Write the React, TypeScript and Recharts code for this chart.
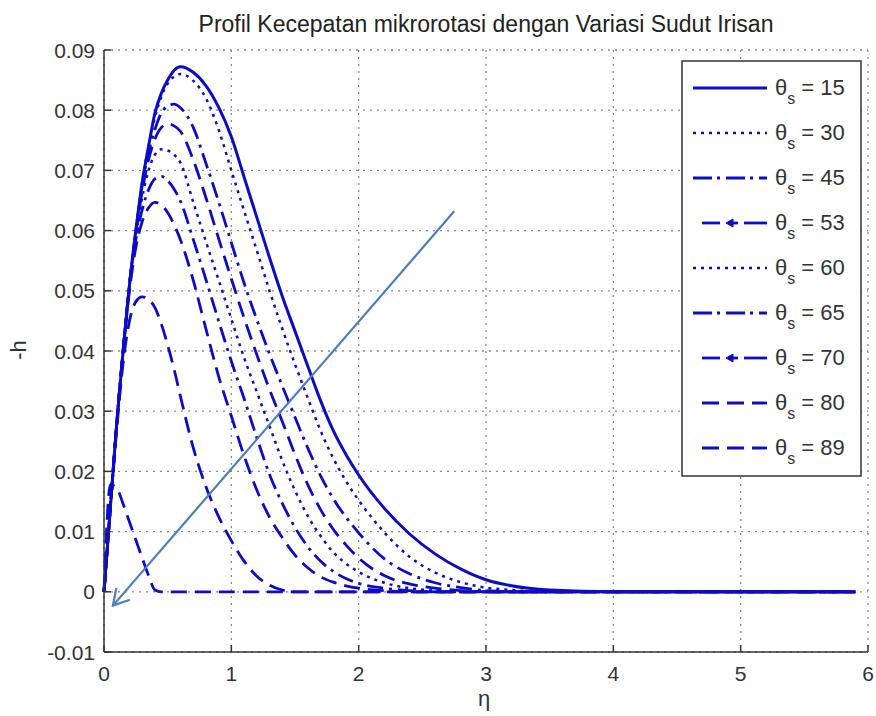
import React from 'react';
import { LineChart, Line, XAxis, YAxis, CartesianGrid, ReferenceLine } from 'recharts';

// eta grid (x values) shared by every profile
const eta = [0, 0.05, 0.1, 0.15, 0.2, 0.25, 0.3, 0.35, 0.4, 0.45, 0.5, 0.55, 0.6, 0.7, 0.8, 0.9, 1.0, 1.1, 1.2, 1.3, 1.4, 1.5, 1.6, 1.7, 1.8, 1.9, 2.0, 2.2, 2.4, 2.6, 2.8, 3.0, 3.2, 3.5, 4.0, 4.5, 5.0, 5.5, 5.9];

// -h values, one list per slice angle
const h15 = [0, 0.014, 0.028, 0.04, 0.051, 0.06, 0.068, 0.074, 0.0795, 0.0828, 0.085, 0.0866, 0.0872, 0.0863, 0.0841, 0.0805, 0.0756, 0.0689, 0.0622, 0.0555, 0.0491, 0.0433, 0.0375, 0.0318, 0.0268, 0.0228, 0.0194, 0.0139, 0.0096, 0.0063, 0.0038, 0.002, 0.001, 0.0003, 0, 0, 0, 0, 0];
const h30 = [0, 0.014, 0.028, 0.04, 0.051, 0.06, 0.068, 0.074, 0.0788, 0.0822, 0.0844, 0.0856, 0.086, 0.0849, 0.082, 0.0768, 0.07, 0.0633, 0.0567, 0.05, 0.0437, 0.0378, 0.0322, 0.0268, 0.0222, 0.0184, 0.0152, 0.0099, 0.0058, 0.0032, 0.0016, 0.0007, 0.0003, 0, 0, 0, 0, 0, 0];
const h45 = [0, 0.014, 0.028, 0.04, 0.051, 0.06, 0.0675, 0.073, 0.0768, 0.0795, 0.0807, 0.081, 0.0804, 0.0772, 0.0712, 0.0648, 0.058, 0.0513, 0.0452, 0.0395, 0.0342, 0.029, 0.0239, 0.0193, 0.0155, 0.0124, 0.0098, 0.0055, 0.003, 0.0015, 0.0007, 0.0002, 0, 0, 0, 0, 0, 0, 0];
const h53 = [0, 0.014, 0.028, 0.04, 0.051, 0.0595, 0.0665, 0.0718, 0.0752, 0.0771, 0.0777, 0.0774, 0.0765, 0.0718, 0.0655, 0.0587, 0.052, 0.0455, 0.0394, 0.0336, 0.0283, 0.0228, 0.0178, 0.0137, 0.0104, 0.0078, 0.0056, 0.0027, 0.0013, 0.0006, 0.0002, 0, 0, 0, 0, 0, 0, 0, 0];
const h60 = [0, 0.014, 0.028, 0.04, 0.051, 0.059, 0.0655, 0.07, 0.0726, 0.0735, 0.0733, 0.0726, 0.0713, 0.0648, 0.0582, 0.0518, 0.0453, 0.0389, 0.0332, 0.0275, 0.0218, 0.0168, 0.0126, 0.0093, 0.0066, 0.0047, 0.0033, 0.0015, 0.0006, 0.0002, 0, 0, 0, 0, 0, 0, 0, 0, 0];
const h65 = [0, 0.014, 0.028, 0.04, 0.051, 0.0585, 0.0635, 0.0668, 0.0686, 0.069, 0.0683, 0.0669, 0.0649, 0.0586, 0.0519, 0.045, 0.0383, 0.0321, 0.0256, 0.0195, 0.0147, 0.0107, 0.0075, 0.0051, 0.0034, 0.0022, 0.0014, 0.0006, 0.0002, 0, 0, 0, 0, 0, 0, 0, 0, 0, 0];
const h70 = [0, 0.014, 0.028, 0.04, 0.05, 0.0572, 0.0615, 0.0638, 0.0647, 0.0643, 0.063, 0.061, 0.0585, 0.0518, 0.0437, 0.0358, 0.0292, 0.0226, 0.0169, 0.0124, 0.009, 0.0061, 0.004, 0.0025, 0.0016, 0.001, 0.0006, 0.0002, 0, 0, 0, 0, 0, 0, 0, 0, 0, 0, 0];
const h80 = [0, 0.014, 0.027, 0.038, 0.045, 0.0482, 0.049, 0.0486, 0.0472, 0.0445, 0.041, 0.037, 0.0325, 0.024, 0.0175, 0.0125, 0.0085, 0.0051, 0.0026, 0.0011, 0.0003, 0, 0, 0, 0, 0, 0, 0, 0, 0, 0, 0, 0, 0, 0, 0, 0, 0, 0];
const h89 = [0, 0.0178, 0.0172, 0.0146, 0.0116, 0.0086, 0.0056, 0.0027, 0.0003, 0, 0, 0, 0, 0, 0, 0, 0, 0, 0, 0, 0, 0, 0, 0, 0, 0, 0, 0, 0, 0, 0, 0, 0, 0, 0, 0, 0, 0, 0];

const angles = ['15', '30', '45', '53', '60', '65', '70', '80', '89'];
const profiles = [h15, h30, h45, h53, h60, h65, h70, h80, h89];

const xTicks = [0, 1, 2, 3, 4, 5, 6];
const yTicks = [-0.01, 0, 0.01, 0.02, 0.03, 0.04, 0.05, 0.06, 0.07, 0.08, 0.09];

// the annotation arrow, in data units
const arrowFrom = { x: 2.75, y: 0.0632 };
const arrowTo = { x: 0.07, y: -0.0023 };

const BLUE = '#0c0cc8';
const INK = '#333';
const FONT = '"Liberation Sans", Arial, sans-serif';

type LineStyle = { dash?: string; legendDash?: string; width: number; arrow?: boolean; start?: number };
const lineStyles: LineStyle[] = [
  { width: 3 },
  { dash: '3 5', legendDash: '3 5', width: 2.5 },
  { dash: '16 6 3 6', legendDash: '19 5 3 6', width: 2.8 },
  { dash: '16 8', width: 2.8, arrow: true, start: 702 },
  { dash: '3 5', legendDash: '3 5', width: 2.5 },
  { dash: '16 6 3 6', legendDash: '19 5 3 6', width: 2.8 },
  { dash: '16 8', width: 2.8, arrow: true, start: 702 },
  { dash: '16 8', legendDash: '17 8', width: 2.8, start: 702 },
  { dash: '16 8', legendDash: '17 8', width: 2.8, start: 702 },
];

const rows = eta.map((e, i) => {
  const row: Record<string, number> = { eta: e };
  profiles.forEach((p, k) => {
    row['t' + angles[k]] = p[i];
  });
  return row;
});

const fmtY = (v: number) => (Math.abs(v) < 1e-9 ? '0' : v.toFixed(2));

const BottomTick = (p: any) => (
  <g>
    <line x1={p.x} x2={p.x} y1={p.y - 10} y2={p.y - 17} stroke={INK} strokeWidth={1.5} />
    <text x={p.x} y={p.y + 19} textAnchor="middle" fill={INK} fontSize={21} fontFamily={FONT}>
      {p.payload.value}
    </text>
  </g>
);

const LeftTick = (p: any) => (
  <g>
    <line x1={p.x + 9} x2={p.x + 16} y1={p.y} y2={p.y} stroke={INK} strokeWidth={1.5} />
    <text x={p.x} y={p.y + 7.5} textAnchor="end" fill={INK} fontSize={21} fontFamily={FONT}>
      {fmtY(p.payload.value)}
    </text>
  </g>
);

const TopTick = (p: any) => (
  <line x1={p.x} x2={p.x} y1={p.y} y2={p.y + 7} stroke={INK} strokeWidth={1.5} />
);

const RightTick = (p: any) => (
  <line x1={p.x - 7} x2={p.x} y1={p.y} y2={p.y} stroke={INK} strokeWidth={1.5} />
);

const ArrowShape = (p: any) => {
  const { x1, y1, x2, y2 } = p;
  if ([x1, y1, x2, y2].some((v) => typeof v !== 'number')) return <g />;
  const back = Math.atan2(y1 - y2, x1 - x2);
  const len = 18;
  const spread = 0.52;
  const a = [x2 + len * Math.cos(back + spread), y2 + len * Math.sin(back + spread)];
  const b = [x2 + len * Math.cos(back - spread), y2 + len * Math.sin(back - spread)];
  return (
    <g>
      <line x1={x1} y1={y1} x2={x2} y2={y2} stroke="#4a7ebb" strokeWidth={2.2} />
      <polyline points={`${a[0]},${a[1]} ${x2},${y2} ${b[0]},${b[1]}`} fill="none" stroke="#4a7ebb" strokeWidth={2.2} />
    </g>
  );
};

const Legend = () => {
  const left = 682;
  const top = 61;
  const rowY = (k: number) => 88 + k * 45;
  return (
    <g>
      <rect x={left} y={top} width={179} height={415} fill="#fff" stroke={INK} strokeWidth={1.5} />
      {angles.map((a, k) => {
        const s = lineStyles[k];
        const y = rowY(k);
        const x0 = s.start ?? 693;
        return (
          <g key={a}>
            {s.arrow ? (
              <g stroke={BLUE} strokeWidth={s.width}>
                <line x1={x0} x2={720} y1={y} y2={y} />
                <polygon points={`${726},${y} ${733},${y - 4} ${733},${y + 4}`} fill={BLUE} strokeWidth={1} />
                <line x1={733} x2={738} y1={y} y2={y} />
                <line x1={744} x2={767} y1={y} y2={y} />
              </g>
            ) : (
              <line x1={x0} x2={767} y1={y} y2={y} stroke={BLUE} strokeWidth={s.width} strokeDasharray={s.legendDash} />
            )}
            <text x={775} y={y + 7} fill={INK} fontSize={22} fontFamily={FONT}>
              θ
              <tspan fontSize={16} dy={9}>s</tspan>
              <tspan dy={-9}>{' = ' + a}</tspan>
            </text>
          </g>
        );
      })}
    </g>
  );
};

export default function App() {
  return (
    <div style={{ position: 'absolute', left: 0, top: 0, width: 876, height: 716, background: '#fff' }}>
      <LineChart width={876} height={716} data={rows} margin={{ top: 50, right: 8, bottom: 34, left: 0 }}>
        <CartesianGrid stroke="#8a8a8a" strokeDasharray="2 5" strokeWidth={1.3} />
        <XAxis
          dataKey="eta"
          type="number"
          domain={[0, 6]}
          ticks={xTicks}
          height={30}
          tickSize={0}
          tickMargin={10}
          tickLine={false}
          axisLine={{ stroke: INK, strokeWidth: 1.5 }}
          tick={<BottomTick />}
          interval={0}
        />
        <XAxis
          xAxisId="top"
          orientation="top"
          dataKey="eta"
          type="number"
          domain={[0, 6]}
          ticks={xTicks}
          height={0}
          tickSize={0}
          tickMargin={0}
          tickLine={false}
          axisLine={{ stroke: INK, strokeWidth: 1.5 }}
          tick={<TopTick />}
          interval={0}
        />
        <YAxis
          type="number"
          domain={[-0.01, 0.09]}
          ticks={yTicks}
          width={104}
          tickSize={0}
          tickMargin={9}
          tickLine={false}
          axisLine={{ stroke: INK, strokeWidth: 1.5 }}
          tick={<LeftTick />}
          interval={0}
        />
        <YAxis
          yAxisId="right"
          orientation="right"
          type="number"
          domain={[-0.01, 0.09]}
          ticks={yTicks}
          width={0}
          tickSize={0}
          tickMargin={0}
          tickLine={false}
          axisLine={{ stroke: INK, strokeWidth: 1.5 }}
          tick={<RightTick />}
          interval={0}
        />
        {angles.map((a, k) => (
          <Line
            key={a}
            dataKey={'t' + a}
            type="monotone"
            stroke={BLUE}
            strokeWidth={lineStyles[k].width}
            strokeDasharray={lineStyles[k].dash}
            dot={false}
            activeDot={false}
            isAnimationActive={false}
          />
        ))}
        <ReferenceLine segment={[arrowFrom, arrowTo]} shape={<ArrowShape />} ifOverflow="visible" />
      </LineChart>
      <svg width={876} height={716} style={{ position: 'absolute', left: 0, top: 0, pointerEvents: 'none' }}>
        <text x={486} y={32} textAnchor="middle" fill="#222" fontSize={23} fontFamily={FONT}>
          Profil Kecepatan mikrorotasi dengan Variasi Sudut Irisan
        </text>
        <text x={26} y={350} textAnchor="middle" fill={INK} fontSize={22} fontFamily={FONT} transform="rotate(-90 26 350)">
          -h
        </text>
        <text x={484} y={706} textAnchor="middle" fill={INK} fontSize={22} fontFamily={FONT}>
          η
        </text>
        <Legend />
      </svg>
    </div>
  );
}
